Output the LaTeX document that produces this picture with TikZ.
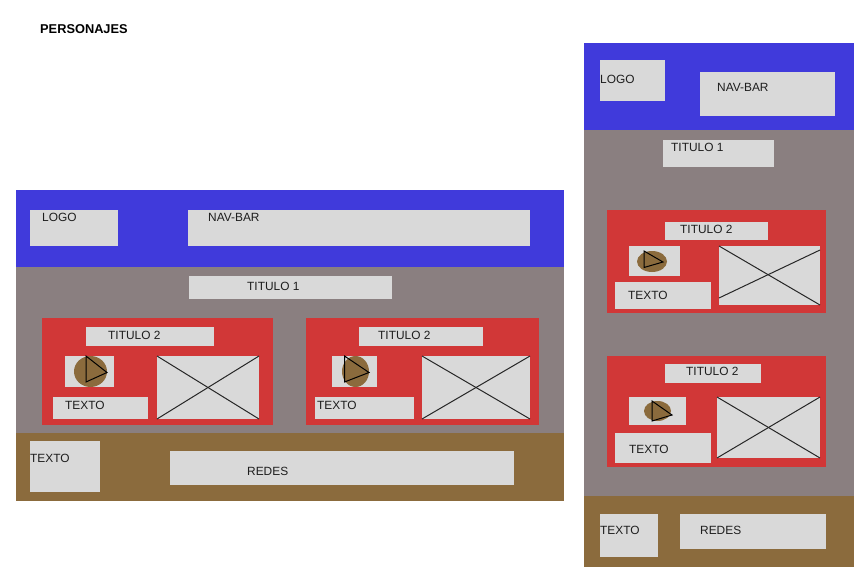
\documentclass[tikz,border=0pt]{standalone}
\usepackage{fontspec}
\setmainfont{Liberation Sans}
\usepackage{tikz}
\usetikzlibrary{shapes.geometric}
\definecolor{bluehead}{HTML}{403ADB}
\definecolor{greybody}{HTML}{8A7F80}
\definecolor{brownfoot}{HTML}{8B6B3D}
\definecolor{redcard}{HTML}{D13737}
\definecolor{greybox}{HTML}{D9D9D9}
\definecolor{labeltext}{HTML}{1E1E1E}

\begin{document}
\begin{tikzpicture}[x=1pt, y=-1pt, thin,
  band/.style={anchor=north west, inner sep=0pt, outer sep=0pt},
  box/.style={band, fill=greybox},
  label node/.style={anchor=west, inner sep=0pt, yshift=-0.7pt, font=\fontsize{11.9}{14}\selectfont, text=labeltext},
  icon node/.style={ellipse, fill=brownfoot, inner sep=0pt},
  cross line/.style={draw=black!85, line width=1pt},
  play line/.style={draw=black, line width=1pt}]

  \useasboundingbox (0,0) rectangle (868,570);

  \node[label node, font=\fontsize{12.8}{15}\selectfont\bfseries, text=black] (title) at (40,28) {PERSONAJES};

  % Define wide page bands
  \node[band, fill=bluehead, minimum width=548, minimum height=77] (headL) at (16,190) {};
  \node[band, fill=greybody, minimum width=548, minimum height=166] (bodyL) at (16,267) {};
  \node[band, fill=brownfoot, minimum width=548, minimum height=68] (footL) at (16,433) {};

  \node[box, minimum width=88, minimum height=36] (logoL) at (30,210) {};
  \node[box, minimum width=342, minimum height=36] (navL) at (188,210) {};
  \node[box, minimum width=203, minimum height=23] (tit1L) at (189,276) {};
  \node[box, minimum width=70, minimum height=51] (textL) at (30,441) {};
  \node[box, minimum width=344, minimum height=34] (redesL) at (170,451) {};

  % Define wide page cards
  \node[band, fill=redcard, minimum width=231, minimum height=107] (cardA) at (42,318) {};
  \node[box, minimum width=128, minimum height=19] (titA) at (86,327) {};
  \node[box, minimum width=49, minimum height=31] (iconA) at (65,356) {};
  \node[box, minimum width=95, minimum height=22] (textA) at (53,397) {};
  \node[box, minimum width=102, minimum height=63] (imgA) at (157,356) {};
  \node[icon node, minimum width=33, minimum height=31] (ballA) at (90.5,371.5) {};
  \draw[play line] (86,356) -- (107,372.5) -- (86,382) -- cycle;

  \node[band, fill=redcard, minimum width=233, minimum height=107] (cardB) at (306,318) {};
  \node[box, minimum width=124, minimum height=19] (titB) at (359,327) {};
  \node[box, minimum width=45, minimum height=31] (iconB) at (332,356) {};
  \node[box, minimum width=99, minimum height=22] (textB) at (315,397) {};
  \node[box, minimum width=108, minimum height=63] (imgB) at (422,356) {};
  \node[icon node, minimum width=27, minimum height=31] (ballB) at (355.5,371.5) {};
  \draw[play line] (344.5,356) -- (369,372.5) -- (344.5,382) -- cycle;

  % Define narrow page bands
  \node[band, fill=bluehead, minimum width=270, minimum height=87] (headR) at (584,43) {};
  \node[band, fill=greybody, minimum width=270, minimum height=366] (bodyR) at (584,130) {};
  \node[band, fill=brownfoot, minimum width=270, minimum height=71] (footR) at (584,496) {};

  \node[box, minimum width=65, minimum height=41] (logoR) at (600,60) {};
  \node[box, minimum width=135, minimum height=44] (navR) at (700,72) {};
  \node[box, minimum width=111, minimum height=27] (tit1R) at (663,140) {};
  \node[box, minimum width=58, minimum height=43] (textR) at (600,514) {};
  \node[box, minimum width=146, minimum height=35] (redesR) at (680,514) {};

  % Define narrow page cards
  \node[band, fill=redcard, minimum width=219, minimum height=103] (cardC) at (607,210) {};
  \node[box, minimum width=103, minimum height=18] (titC) at (665,222) {};
  \node[box, minimum width=51, minimum height=30] (iconC) at (629,246) {};
  \node[box, minimum width=96, minimum height=27] (textC) at (615,282) {};
  \node[box, minimum width=101, minimum height=59] (imgC) at (719,246) {};
  \node[icon node, minimum width=30, minimum height=21] (ballC) at (652,261.5) {};
  \draw[play line] (644,251) -- (663,262) -- (644,267.5) -- cycle;

  \node[band, fill=redcard, minimum width=219, minimum height=111] (cardD) at (607,356) {};
  \node[box, minimum width=96, minimum height=19] (titD) at (665,364) {};
  \node[box, minimum width=57, minimum height=28] (iconD) at (629,397) {};
  \node[box, minimum width=96, minimum height=30] (textD) at (615,433) {};
  \node[box, minimum width=103, minimum height=61] (imgD) at (717,397) {};
  \node[icon node, minimum width=27, minimum height=20] (ballD) at (657.5,411) {};
  \draw[play line] (652,401) -- (672,415) -- (652,421) -- cycle;

  % Define image crosses
  \draw[cross line] (imgA.north west) -- (imgA.south east);
  \draw[cross line] (imgA.north east) -- (imgA.south west);
  \draw[cross line] (imgB.north west) -- (imgB.south east);
  \draw[cross line] (imgB.north east) -- (imgB.south west);
  \draw[cross line] (imgC.north west) -- (imgC.south east);
  \draw[cross line] ([yshift=-4pt]imgC.north east) -- ([yshift=7pt]imgC.south west);
  \draw[cross line] (imgD.north west) -- (imgD.south east);
  \draw[cross line] (imgD.north east) -- (imgD.south west);

  % Define labels
  \node[label node] (logoLt) at (42,217) {LOGO};
  \node[label node] (navLt) at (208,217) {NAV-BAR};
  \node[label node] (tit1Lt) at (247,286) {TITULO 1};
  \node[label node] (titAt) at (108,335) {TITULO 2};
  \node[label node] (titBt) at (378,335) {TITULO 2};
  \node[label node] (textAt) at (65,405) {TEXTO};
  \node[label node] (textBt) at (317,405) {TEXTO};
  \node[label node] (textLt) at (30,458) {TEXTO};
  \node[label node] (redesLt) at (247,471) {REDES};
  \node[label node] (logoRt) at (600,79) {LOGO};
  \node[label node] (navRt) at (717,87) {NAV-BAR};
  \node[label node] (tit1Rt) at (671,147) {TITULO 1};
  \node[label node] (titCt) at (680,229) {TITULO 2};
  \node[label node] (textCt) at (628,295) {TEXTO};
  \node[label node] (titDt) at (686,371) {TITULO 2};
  \node[label node] (textDt) at (629,449) {TEXTO};
  \node[label node] (textRt) at (600,530) {TEXTO};
  \node[label node] (redesRt) at (700,530) {REDES};
\end{tikzpicture}
\end{document}
